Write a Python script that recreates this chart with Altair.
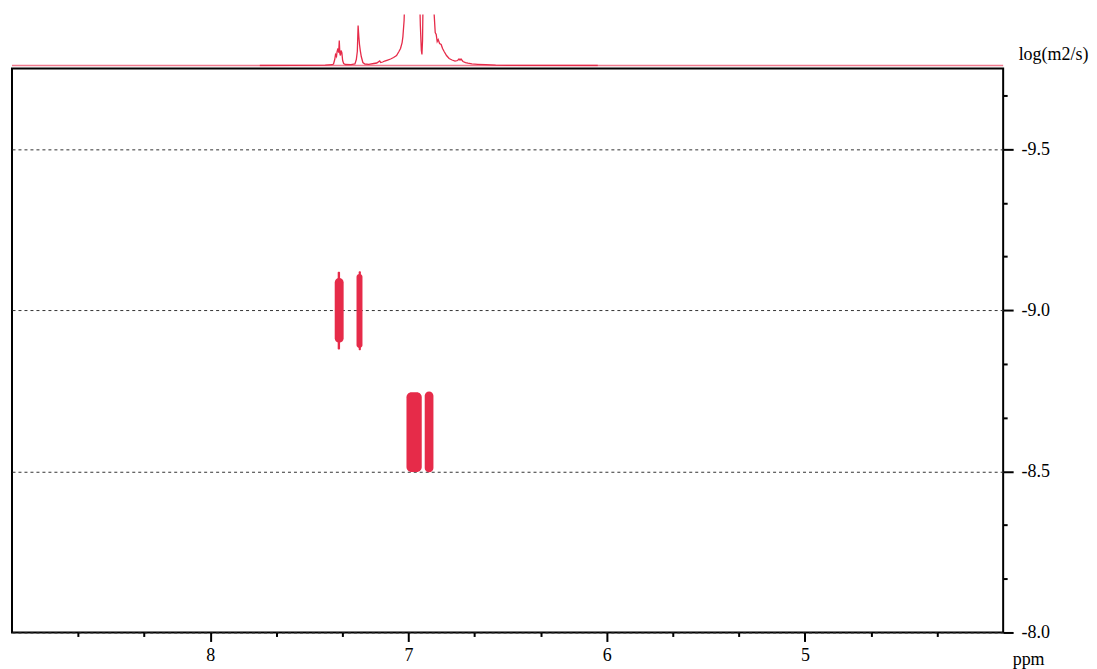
import altair as alt
import pandas as pd

# ---- 1D projection spectrum (top trace), ppm vs. relative intensity ----
spec_ppm = [7.75, 7.42, 7.385, 7.378, 7.372, 7.368, 7.363, 7.360, 7.356, 7.352,
            7.349, 7.346, 7.343, 7.340, 7.336, 7.332, 7.327, 7.318, 7.290, 7.270,
            7.263, 7.258, 7.254, 7.250, 7.247, 7.243, 7.238, 7.230, 7.220, 7.200,
            7.175, 7.160, 7.145, 7.140, 7.130, 7.120, 7.105, 7.090, 7.075, 7.060,
            7.048, 7.040, 7.032, 7.028, 7.022, 7.018, 7.010, 6.990, 6.960, 6.945,
            6.940, 6.935, 6.932, 6.929, 6.926, 6.920, 6.890, 6.878, 6.870, 6.865,
            6.860, 6.855, 6.850, 6.843, 6.835, 6.828, 6.820, 6.808, 6.795, 6.780,
            6.765, 6.752, 6.745, 6.740, 6.735, 6.725, 6.712, 6.700, 6.680, 6.650,
            6.610, 6.560, 6.500, 6.045]
spec_int = [0, 0.3, 0.8, 1.5, 6, 11, 9, 14, 17, 13,
            25, 12, 10, 15, 13, 5, 2, 1, 0.8, 1.5,
            6, 14, 40, 28, 21, 15, 9, 3, 1.5, 1.2,
            2, 2.5, 4.5, 3, 3.5, 4.5, 5.5, 6.5, 8, 10,
            14, 17, 23, 29, 45, 70, 110, 140, 140, 80,
            40, 15, 11, 25, 70, 140, 140, 80, 50, 33,
            31, 24, 26, 22, 21, 17, 14, 10, 7, 5.5,
            4.5, 5, 6.5, 5.5, 6.5, 4, 3, 2.3, 1.6, 1.2,
            0.8, 0.4, 0.2, 0]
baseline_val = [0]

# ---- DOSY cross peaks ----
blob_left = [7.372, 7.262, 7.010, 6.918]
blob_right = [7.327, 7.232, 6.933, 6.874]
blob_top = [-9.100, -9.112, -8.745, -8.748]
blob_bottom = [-8.899, -8.883, -8.498, -8.497]

# thin tails of the first two peaks
tail_left = [7.357, 7.251]
tail_right = [7.345, 7.240]
tail_top = [-9.119, -9.121]
tail_bottom = [-8.878, -8.876]

# ---- axis ticks ----
x_major = [8, 7, 6, 5]
x_minor = [8.667, 8.333, 7.667, 7.333, 6.667, 6.333, 5.667, 5.333, 4.667, 4.333]
y_major = [-9.5, -9.0, -8.5, -8.0]
y_minor = [-9.667, -9.333, -9.167, -8.833, -8.667, -8.333, -8.167]

RED = "#e62b49"
PINK = "#f07a8e"
FONT = "Liberation Serif"
W = 993

xs = alt.Scale(domain=[4, 9], reverse=True, nice=False, zero=False)
ys = alt.Scale(domain=[-9.75, -8.0], reverse=True, nice=False, zero=False)
ts = alt.Scale(domain=[-1, 51], nice=False, zero=False)

spec_df = pd.DataFrame({"ppm": spec_ppm, "intensity": spec_int})
base_df = pd.DataFrame({"intensity": baseline_val})

baseline = alt.Chart(base_df).mark_rule(color=PINK, strokeWidth=1.5).encode(
    y=alt.Y("intensity:Q", scale=ts, axis=None)
)
trace = alt.Chart(spec_df).mark_line(color=RED, strokeWidth=1.3, clip=True).encode(
    x=alt.X("ppm:Q", scale=xs, axis=None),
    y=alt.Y("intensity:Q", scale=ts, axis=None),
    order="ppm:Q",
)
top = alt.layer(baseline, trace).properties(
    width=W, height=52, view=alt.ViewBackground(stroke="transparent")
)

blob_df = pd.DataFrame({"l": blob_left, "r": blob_right, "t": blob_top, "b": blob_bottom})
tail_df = pd.DataFrame({"l": tail_left, "r": tail_right, "t": tail_top, "b": tail_bottom})

blobs = alt.Chart(blob_df).mark_rect(color=RED, cornerRadius=5).encode(
    x=alt.X("l:Q", scale=xs, axis=alt.Axis(
        orient="bottom", values=x_major, title="ppm", format="d",
        tickSize=9, tickWidth=2, tickColor="black", domain=False, grid=False,
        labelFont=FONT, labelFontSize=18, labelColor="black", labelPadding=5,
        labelFlush=False, labelOverlap=False,
        titleFont=FONT, titleFontSize=18, titleFontWeight="normal", titleColor="black",
        titleX=1018, titleY=32, titleAlign="center", titleBaseline="alphabetic")),
    x2="r:Q",
    y=alt.Y("t:Q", scale=ys, axis=alt.Axis(
        orient="right", values=y_major, title="log(m2/s)",
        labelExpr="(datum.value < 0 ? '-' : '') + format(abs(datum.value), '.1f')",
        tickSize=10, tickWidth=2, tickColor="black", domain=False,
        grid=True, gridDash=[3, 3], gridColor="#333333", gridWidth=1,
        labelFont=FONT, labelFontSize=18, labelColor="black", labelPadding=8,
        labelFlush=False, labelOverlap=False, labelAlign="left", labelBaseline="middle",
        titleFont=FONT, titleFontSize=18, titleFontWeight="normal", titleColor="black",
        titleAngle=0, titleX=15, titleY=-9, titleAlign="left", titleBaseline="alphabetic")),
    y2="b:Q",
)

tails = alt.Chart(tail_df).mark_rect(color=RED, cornerRadius=1).encode(
    x=alt.X("l:Q", scale=xs, axis=alt.Axis(
        orient="bottom", values=x_minor, labels=False, title="",
        tickSize=4, tickWidth=2, tickColor="black", domain=False, grid=False)),
    x2="r:Q",
    y=alt.Y("t:Q", scale=ys, axis=alt.Axis(
        orient="right", values=y_minor, labels=False, title="",
        tickSize=4, tickWidth=2, tickColor="black", domain=False, grid=False)),
    y2="b:Q",
)

main = alt.layer(tails, blobs).resolve_axis(x="independent", y="independent").properties(
    width=W, height=565
)

chart = alt.vconcat(top, main, spacing=2, bounds="flush").properties(
    padding={"left": 2, "top": 5, "right": 0, "bottom": 0},
    background="white",
).configure_view(stroke="black", strokeWidth=2)

chart.save("out.html", embed_options={"renderer": "svg", "actions": False})
